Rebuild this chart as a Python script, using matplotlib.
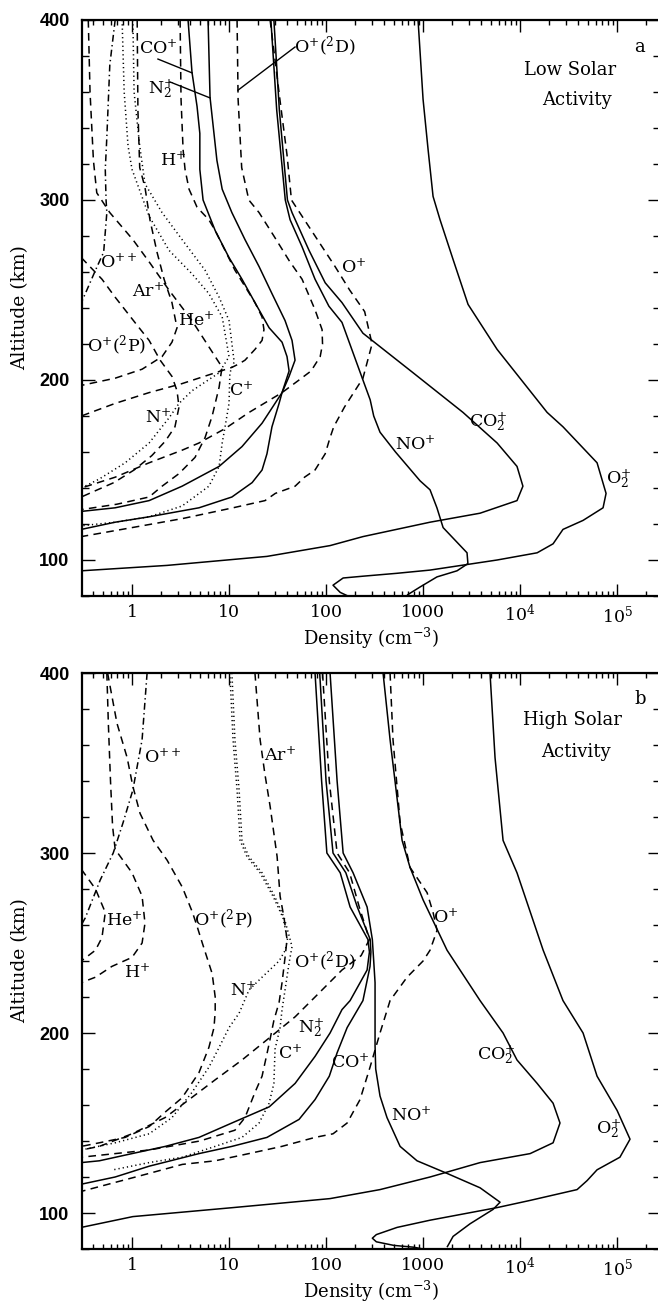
import numpy as np
import matplotlib
matplotlib.use('Agg')
import matplotlib.pyplot as plt
from matplotlib.ticker import FixedLocator, FixedFormatter, NullFormatter, LogLocator, MultipleLocator

plt.rcParams['font.family'] = ['DejaVu Serif']
plt.rcParams['mathtext.fontset'] = 'dejavuserif'

# ---------------- Panel a : Low solar activity ----------------
alt_O2p_a = [400, 356, 328, 302, 289, 267, 242, 217, 182, 174, 154, 137, 129, 122, 117, 109, 104, 100, 94.4, 92.6, 91, 90, 86, 82, 80]
n_O2p_a = [888, 1000, 1127, 1268, 1497, 2038, 2910, 5800, 19000, 27700, 62200, 77000, 71700, 44600, 27700, 21900, 15000, 5800, 1180, 535, 240, 150, 118, 140, 168]

alt_CO2p_a = [400, 350, 300, 293, 272, 254, 243, 226, 204, 182, 165, 152, 141, 133, 126, 121, 113, 108, 102, 97, 94]
n_CO2p_a = [29, 33, 40, 44.6, 66.8, 98, 146, 240, 790, 2580, 5800, 9300, 10700, 9300, 3870, 1180, 240, 110, 24.6, 2.3, 0.3]

alt_NOp_a = [400, 350, 300, 289, 274, 256, 241, 232, 200, 189, 180, 171, 160, 144, 139, 129, 118, 104, 98, 94, 90.6, 85, 80.5]
n_NOp_a = [27, 31, 38, 42.6, 56.6, 77, 107, 146, 240, 285, 310, 360, 520, 931, 1180, 1390, 1610, 2840, 2900, 2240, 1390, 931, 684]

alt_Op_a = [400, 355, 325, 300, 280, 263, 250, 238, 220, 201, 185, 174, 168, 159, 150, 146, 141, 137, 133, 129, 123, 118, 113]
n_Op_a = [26.5, 33.6, 39.6, 44, 77, 124, 175, 250, 298, 240, 155, 120, 110, 98, 77, 60, 48, 30, 23.5, 11, 3.3, 1.0, 0.3]

alt_O2D_a = [400, 356, 318, 300, 293, 280, 266, 256, 239, 228, 220, 213, 205, 200, 193, 182, 173, 165, 161, 154, 146, 140]
n_O2D_a = [12.1, 12.4, 13.5, 16, 20.4, 29, 42, 56.6, 77, 91, 92, 87, 70, 52.7, 35.2, 16.1, 9.1, 4.9, 3.28, 1.5, 0.67, 0.3]

alt_COp_a = [400, 371, 352, 337, 317, 300, 283, 268, 256, 243, 229, 221, 213, 205, 193, 187, 174, 159, 150, 143, 135, 129, 124, 121, 117]
n_COp_a = [3.78, 4.15, 4.68, 5.0, 5.0, 5.4, 7.2, 10, 13.6, 18.5, 25.9, 35.2, 39.6, 41.6, 35.2, 32.8, 27.7, 24.6, 21.9, 17.3, 10.7, 4.9, 1.5, 0.67, 0.3]

alt_N2p_a = [400, 357, 322, 306, 293, 278, 263, 248, 233, 222, 211, 202, 193, 176, 163, 152, 141, 133, 129, 127]
n_N2p_a = [6.08, 6.37, 7.5, 8.5, 10.7, 14.6, 20.4, 27.7, 37.8, 44.6, 47.9, 41.6, 35.2, 21.9, 13.6, 7.9, 3.28, 1.5, 0.67, 0.3]

alt_Hp_a = [400, 356, 328, 317, 306, 296, 289, 283, 272, 261, 252, 243, 235, 228, 222, 217, 211, 209, 207, 204, 198, 193, 187, 180]
n_Hp_a = [3.13, 3.2, 3.36, 3.52, 3.87, 4.68, 6.2, 7.2, 9.1, 11.5, 14.6, 18.5, 21.9, 22.9, 21.9, 18.5, 14.6, 12.7, 10.7, 7.2, 3.28, 1.5, 0.67, 0.3]

alt_Hep_a = [400, 360, 322, 304, 293, 278, 265, 250, 233, 213, 207, 204, 196, 180, 168, 157, 148, 141, 135, 131, 128]
n_Hep_a = [0.354, 0.369, 0.40, 0.433, 0.59, 1.02, 1.53, 2.4, 4.15, 7.2, 8.5, 8.3, 7.9, 6.7, 5.66, 4.46, 3.05, 2.04, 1.5, 0.7, 0.3]

alt_Arp_a = [400, 350, 318, 307, 289, 271, 256, 243, 229, 221, 213, 206, 201, 197]
n_Arp_a = [1.13, 1.15, 1.2, 1.36, 1.53, 1.81, 2.14, 2.58, 2.91, 2.58, 2.04, 1.27, 0.67, 0.3]

alt_Opp_a = [400, 375, 335, 317, 300, 293, 271, 261, 248, 243]
n_Opp_a = [0.67, 0.59, 0.55, 0.53, 0.54, 0.55, 0.51, 0.42, 0.33, 0.3]

alt_Np_a = [400, 360, 330, 317, 291, 272, 259, 248, 235, 213, 204, 194, 187, 179, 165, 154, 145, 140]
n_Np_a = [0.79, 0.83, 0.91, 1.0, 1.5, 2.41, 4.15, 6.2, 8.5, 10, 7.9, 4.15, 3.05, 2.41, 1.5, 0.85, 0.46, 0.3]

alt_Cp_a = [400, 360, 330, 309, 293, 278, 261, 246, 233, 210, 204, 187, 174, 165, 152, 141, 130, 124, 121, 119]
n_Cp_a = [1.02, 1.05, 1.2, 1.36, 2.04, 3.28, 5.66, 7.9, 10, 11.3, 10.2, 10, 9.1, 8.5, 7.9, 6.2, 3.28, 1.5, 0.67, 0.3]

alt_O2P_a = [268, 256, 246, 232, 222, 211, 202, 194, 185, 174, 166, 158, 150, 143, 138, 135]
n_O2P_a = [0.3, 0.49, 0.67, 1.07, 1.5, 1.95, 2.58, 2.91, 3.05, 2.77, 2.2, 1.6, 1.05, 0.65, 0.4, 0.3]

# ---------------- Panel b : High solar activity ----------------
alt_O2p_b = [400, 353, 307, 289, 246, 218, 200, 176, 157, 141, 131, 124, 118, 113, 107, 103, 96, 92, 88, 86, 84, 82, 81, 80]
n_O2p_b = [4900, 5520, 6680, 9300, 17300, 27700, 44600, 62200, 100000, 136000, 107000, 62200, 49100, 38700, 12700, 5800, 1180, 540, 330, 300, 330, 500, 800, 1000]

alt_CO2p_b = [400, 363, 307, 292, 274, 246, 218, 200, 185, 172, 161, 150, 139, 133, 128, 120, 113, 108, 103, 98, 92]
n_CO2p_b = [387, 457, 608, 734, 1000, 1767, 3870, 6680, 9300, 15000, 21900, 25800, 21900, 12700, 3870, 1180, 360, 110, 11, 1.02, 0.3]

alt_NOp_b = [400, 340, 300, 289, 270, 252, 240, 228, 193, 180, 165, 153, 137, 129, 122, 114, 106, 102, 94, 87, 81]
n_NOp_b = [110, 130, 150, 190, 265, 300, 310, 320, 320, 325, 360, 425, 580, 867, 1767, 3870, 6220, 5270, 3050, 2040, 1767]

alt_Op_b = [400, 363, 317, 292, 278, 267, 257, 246, 240, 231, 218, 200, 181, 163, 150, 144, 142, 137, 133, 129, 127, 122, 117, 112]
n_Op_b = [457, 490, 580, 734, 1100, 1268, 1394, 1180, 1000, 684, 457, 360, 284, 224, 165, 118, 77, 35, 16, 7.2, 3.3, 1.5, 0.67, 0.3]

alt_COp_b = [400, 340, 300, 289, 270, 252, 245, 237, 218, 203, 189, 176, 163, 152, 142, 137, 133, 126, 120, 116]
n_COp_b = [86, 100, 118, 160, 210, 285, 290, 284, 240, 165, 130, 108, 77, 52.7, 24.6, 10.7, 4.9, 1.5, 0.67, 0.3]

alt_N2p_b = [400, 340, 300, 289, 270, 252, 245, 235, 218, 213, 200, 187, 172, 159, 150, 142, 137, 133, 129, 128]
n_N2p_b = [77, 90, 102, 140, 177, 270, 280, 265, 177, 146, 110, 77, 48, 26, 10.7, 4.9, 2.2, 1.0, 0.46, 0.3]

alt_O2D_b = [400, 340, 300, 289, 270, 252, 243, 235, 220, 209, 200, 185, 174, 163, 153, 144, 137, 135]
n_O2D_b = [92, 108, 130, 175, 220, 280, 230, 146, 77, 48, 30, 13.6, 7.2, 3.87, 2.19, 1.0, 0.46, 0.3]

alt_Arp_b = [400, 363, 344, 326, 298, 276, 264, 252, 242, 228, 217, 207, 194, 176, 167, 153, 146, 140, 135, 131]
n_Arp_b = [18.5, 20.9, 23.4, 26.5, 31.3, 33.6, 36.9, 39.6, 37.8, 35.2, 32.8, 29, 25.9, 21.9, 18.5, 14.6, 11.5, 5, 1.5, 0.3]

alt_Np_b = [400, 363, 335, 307, 298, 289, 276, 264, 252, 246, 240, 231, 224, 211, 203, 192, 181, 167, 153, 144, 139, 135]
n_Np_b = [10.2, 11, 12.1, 13, 15.3, 20.9, 28.4, 36, 40, 38, 32.8, 21.9, 16.1, 12.7, 10, 7.9, 6.2, 4.15, 2.58, 1.5, 0.67, 0.3]

alt_Cp_b = [400, 363, 335, 307, 298, 289, 276, 264, 252, 248, 239, 224, 213, 203, 191, 172, 161, 150, 142, 137, 131, 128, 124]
n_Cp_b = [10.7, 11.5, 12.7, 13.6, 16, 21.9, 29.5, 37, 42.6, 44.6, 41.6, 37.8, 35.2, 33.6, 29.8, 29, 25.9, 20.4, 13.6, 7.2, 3.28, 1.5, 0.64]

alt_Hp_b = [400, 372, 340, 315, 302, 289, 276, 261, 250, 242, 237, 231, 228]
n_Hp_b = [0.55, 0.57, 0.60, 0.63, 0.67, 1.0, 1.27, 1.36, 1.27, 1.0, 0.62, 0.42, 0.3]

alt_Hep_b = [291, 280, 267, 253, 246, 240]
n_Hep_b = [0.3, 0.42, 0.53, 0.49, 0.42, 0.3]

alt_O2P_b = [400, 372, 353, 337, 322, 307, 296, 281, 267, 259, 250, 241, 233, 220, 212, 203, 192, 178, 164, 156, 148, 142, 139, 137]
n_O2P_b = [0.56, 0.70, 0.89, 1.02, 1.21, 1.65, 2.3, 3.3, 4.2, 4.7, 5.3, 6.0, 6.7, 7.2, 7.2, 7.0, 6.2, 4.9, 3.28, 2.19, 1.5, 0.85, 0.46, 0.3]

alt_Opp_b = [400, 363, 335, 317, 300, 285, 264, 260]
n_Opp_b = [1.43, 1.27, 1.02, 0.81, 0.64, 0.47, 0.33, 0.3]

# x tick values / labels
xticks = [1, 10, 100, 1000, 1e4, 1e5]
xticklabels = ['1', '10', '100', '1000', '10$^4$', '10$^5$']
yticks = [100, 200, 300, 400]

SOLID = '-'
DASH = (0, (5, 3.5))
DOT = (0, (0.8, 2.0))
DASHDOT = (0, (4.5, 2.2, 0.9, 2.2))

series_a = [
    (alt_O2p_a, n_O2p_a, SOLID), (alt_CO2p_a, n_CO2p_a, SOLID), (alt_NOp_a, n_NOp_a, SOLID),
    (alt_COp_a, n_COp_a, SOLID), (alt_N2p_a, n_N2p_a, SOLID),
    (alt_Op_a, n_Op_a, DASH), (alt_O2D_a, n_O2D_a, DASH), (alt_Hp_a, n_Hp_a, DASH),
    (alt_Hep_a, n_Hep_a, DASH), (alt_Arp_a, n_Arp_a, DASH), (alt_O2P_a, n_O2P_a, DASH),
    (alt_Opp_a, n_Opp_a, DASHDOT), (alt_Np_a, n_Np_a, DOT), (alt_Cp_a, n_Cp_a, DOT),
]
series_b = [
    (alt_O2p_b, n_O2p_b, SOLID), (alt_CO2p_b, n_CO2p_b, SOLID), (alt_NOp_b, n_NOp_b, SOLID),
    (alt_COp_b, n_COp_b, SOLID), (alt_N2p_b, n_N2p_b, SOLID),
    (alt_Op_b, n_Op_b, DASH), (alt_O2D_b, n_O2D_b, DASH), (alt_Hp_b, n_Hp_b, DASH),
    (alt_Hep_b, n_Hep_b, DASH), (alt_Arp_b, n_Arp_b, DASH), (alt_O2P_b, n_O2P_b, DASH),
    (alt_Opp_b, n_Opp_b, DASHDOT), (alt_Np_b, n_Np_b, DOT), (alt_Cp_b, n_Cp_b, DOT),
]

labels_a = [
    ('O$^{++}$', 0.74, 265.6), ('Ar$^{+}$', 1.46, 249), ('He$^{+}$', 4.6, 233.3),
    ('O$^{+}$($^{2}$P)', 0.70, 219), ('N$^{+}$', 1.85, 179), ('C$^{+}$', 13.3, 194.4),
    ('H$^{+}$', 2.65, 322), ('CO$^{+}$', 1.85, 384.4), ('N$_2^{+}$', 2.0, 361.5),
    ('O$^{+}$($^{2}$D)', 98, 385), ('O$^{+}$', 194, 262.8), ('CO$_2^{+}$', 4700, 176.5),
    ('NO$^{+}$', 827, 164), ('O$_2^{+}$', 1.05e5, 144.5),
]
labels_b = [
    ('O$^{++}$', 2.09, 353.3), ('Ar$^{+}$', 33.6, 354.4), ('He$^{+}$', 0.84, 262.8),
    ('O$^{+}$($^{2}$P)', 8.7, 262.8), ('H$^{+}$', 1.13, 233.9), ('N$^{+}$', 13.9, 223.9),
    ('O$^{+}$($^{2}$D)', 98, 239.4), ('N$_2^{+}$', 70, 202.3), ('C$^{+}$', 42.6, 188.9),
    ('CO$^{+}$', 177, 183.9), ('NO$^{+}$', 752, 154.4), ('CO$_2^{+}$', 5700, 187.3),
    ('O$_2^{+}$', 82700, 146.2), ('O$^{+}$', 1690, 264.4),
]

fig = plt.figure(figsize=(6.58, 13.05), dpi=100)
H = 1305.0
W = 658.0
ax_a = fig.add_axes([82 / W, (H - 596) / H, 578 / W, 576 / H])
ax_b = fig.add_axes([82 / W, (H - 1249) / H, 578 / W, 576 / H])


def curve_x(alt, n, at):
    a = np.array(alt, float)[::-1]
    v = np.log10(np.array(n, float))[::-1]
    return 10 ** np.interp(at, a, v)


for ax, series, labels in ((ax_a, series_a, labels_a), (ax_b, series_b, labels_b)):
    for alt, n, ls in series:
        ax.plot(n, alt, color='black', lw=1.1, linestyle=ls, solid_capstyle='butt',
                solid_joinstyle='round')
    for txt, x, y in labels:
        ax.text(x, y, txt, fontsize=12.5, ha='center', va='center', color='black')
    ax.set_xscale('log')
    ax.set_xlim(0.305, 2.77e5)
    ax.set_ylim(80, 400)
    ax.xaxis.set_major_locator(FixedLocator(xticks))
    ax.xaxis.set_major_formatter(FixedFormatter(xticklabels))
    ax.xaxis.set_minor_locator(LogLocator(base=10, subs=np.arange(2, 10), numticks=20))
    ax.xaxis.set_minor_formatter(NullFormatter())
    ax.yaxis.set_major_locator(FixedLocator(yticks))
    ax.yaxis.set_minor_locator(MultipleLocator(20))
    ax.tick_params(axis='both', which='both', direction='in', top=True, right=True, width=1.0)
    ax.tick_params(axis='x', which='major', length=8.5, pad=6, labelsize=12.5)
    ax.tick_params(axis='x', which='minor', length=3.8)
    ax.tick_params(axis='y', which='major', length=9, pad=9)
    ax.tick_params(axis='y', which='minor', length=5)
    for lab in ax.get_yticklabels():
        lab.set_fontfamily('Liberation Sans')
        lab.set_fontweight('bold')
        lab.set_fontsize(13)
    for sp in ax.spines.values():
        sp.set_linewidth(1.6)
    ax.set_xlabel('Density (cm$^{-3}$)', fontsize=13)
    ax.xaxis.set_label_coords(0.5, -30 / 576)
    ax.set_ylabel('Altitude (km)', fontsize=13.5, va='center')
    ax.yaxis.set_label_coords(-0.107, 0.5)

# Leader lines (panel a)
for (lx, la, alt_arr, n_arr, ya) in [
        (1.85, 378.3, alt_COp_a, n_COp_a, 370.6),
        (2.46, 365.6, alt_N2p_a, n_N2p_a, 356.7),
        (47.9, 385.0, alt_O2D_a, n_O2D_a, 361.0)]:
    ax_a.plot([lx, curve_x(alt_arr, n_arr, ya)], [la, ya], color='black', lw=1.0)

ax_a.text(0.965, 0.953, 'a', transform=ax_a.transAxes, fontsize=13, ha='center', va='center')
ax_a.text(0.844, 0.913, 'Low Solar', transform=ax_a.transAxes, fontsize=13, ha='center', va='center')
ax_a.text(0.856, 0.861, 'Activity', transform=ax_a.transAxes, fontsize=13, ha='center', va='center')
ax_b.text(0.965, 0.955, 'b', transform=ax_b.transAxes, fontsize=13, ha='center', va='center')
ax_b.text(0.848, 0.918, 'High Solar', transform=ax_b.transAxes, fontsize=13, ha='center', va='center')
ax_b.text(0.855, 0.863, 'Activity', transform=ax_b.transAxes, fontsize=13, ha='center', va='center')

fig.savefig('out.png', dpi=100)
